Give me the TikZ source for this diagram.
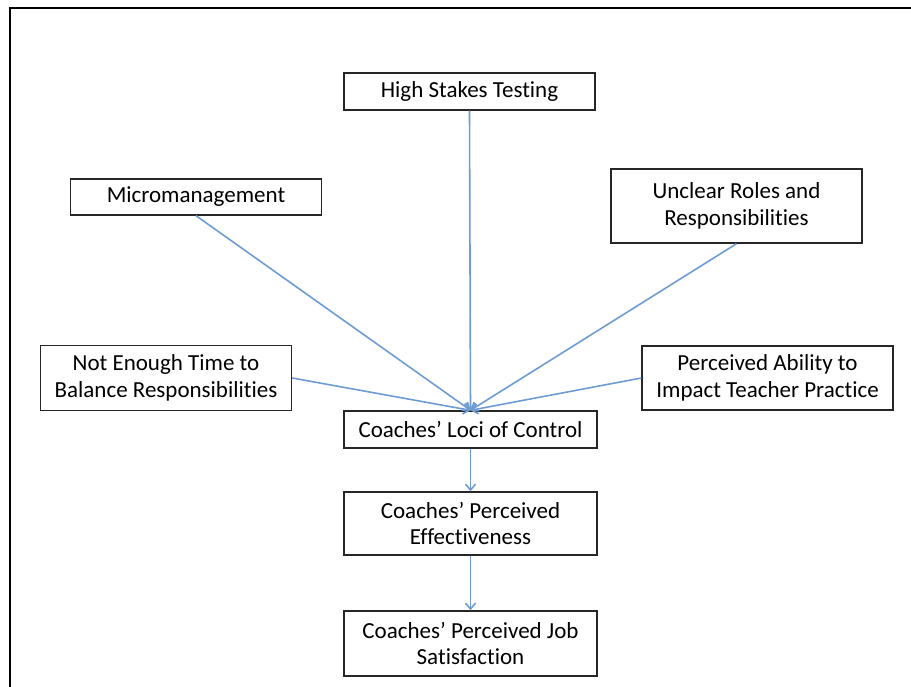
\documentclass[tikz,border=0pt]{standalone}
\usepackage{fontspec}
\setmainfont{Carlito}[Ligatures={NoCommon}]
\usetikzlibrary{positioning, arrows.meta}
\definecolor{arrblue}{RGB}{110,156,210}
\tikzset{factor/.style={draw={black!85}, line width=1.4pt, align=center, minimum width=251pt, inner sep=2pt, font=\fontsize{23}{26.5}\selectfont}}
\tikzset{arr/.style={draw=arrblue, line width=1.6pt, -{Straight Barb[length=6pt,width=10pt]}}}

\begin{document}
\begin{tikzpicture}[x=1pt, y=-1pt]
            \useasboundingbox (0,0) rectangle (911,686);
            \draw[line width=2.2pt] (10,700) -- (10,8) -- (920,8);

            \node[factor, minimum height=37pt] (hst) at (469.5, 91.5) {High Stakes Testing};
            \node[factor, minimum height=36pt] (micro) at (196, 197) {Micromanagement};
            \node[factor, minimum height=74pt] (roles) at (736.5, 206) {Unclear Roles and\\Responsibilities};
            \node[factor, minimum height=65pt] (time) at (166, 378) {Not Enough Time to\\Balance Responsibilities};
            \node[factor, minimum height=64pt] (ability) at (767.5, 378) {Perceived Ability to\\Impact Teacher Practice};

            \node[factor, minimum width=253pt, minimum height=37pt] (loci) at (470.5, 429.5) {Coaches’ Loci of Control};
            \node[factor, minimum width=253pt, minimum height=63pt] (effect) at (470.5, 523.5) {Coaches’ Perceived\\Effectiveness};
            \node[factor, minimum width=253pt, minimum height=65pt] (jobsat) at (470.5, 643.5) {Coaches’ Perceived Job\\Satisfaction};

            \foreach \src/\anc in {hst/south, micro/south, roles/south, time/east, ability/west} {
                \draw[arr] (\src.\anc) -- (loci.north);
            }
            \draw[arr] (loci) -- (effect);
            \draw[arr] (effect) -- (jobsat);

        \end{tikzpicture}
\end{document}
